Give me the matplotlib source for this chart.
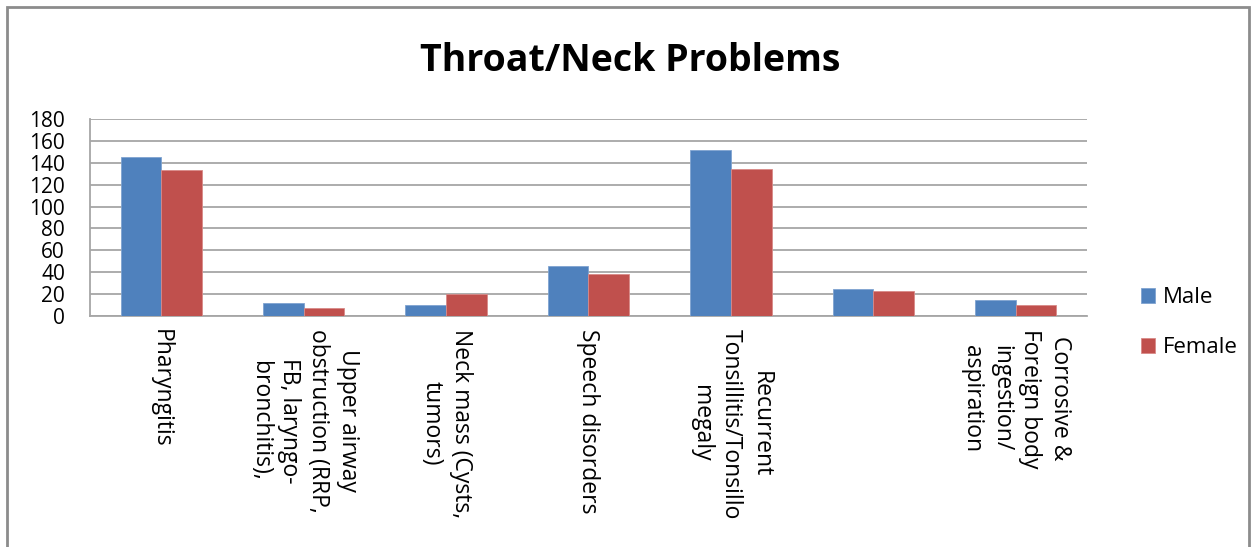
import numpy as np
import matplotlib.pyplot as plt
from matplotlib.patches import Rectangle

plt.rcParams['font.family'] = ['Open Sans', 'DejaVu Sans']

categories = [
    'Pharyngitis',
    'Upper airway\nobstruction (RRP,\nFB, laryngo-\nbronchitis),',
    'Neck mass (Cysts,\ntumors)',
    'Speech disorders',
    'Recurrent\nTonsillitis/Tonsillo\nmegaly',
    '',
    'Corrosive &\nForeign body\ningestion/\naspiration',
]
male = [145, 12, 10, 46, 152, 25, 15]
female = [133, 7, 20, 38, 134, 23, 10]
yticks = [0, 20, 40, 60, 80, 100, 120, 140, 160, 180]

fig = plt.figure(figsize=(12.55, 5.47), dpi=100)
ax = fig.add_axes([0.0717, 0.4223, 0.7944, 0.3601])

x = np.arange(len(categories))
w = 1 / 3.5
ax.bar(x - w / 2, male, w, color='#4F81BD', edgecolor='#7FA3D0', linewidth=0.6, label='Male', zorder=3)
ax.bar(x + w / 2, female, w, color='#C0504D', edgecolor='#D88A88', linewidth=0.6, label='Female', zorder=3)

ax.set_xlim(-0.5, len(categories) - 0.5)
ax.set_ylim(0, 180)
ax.set_yticks(yticks)
ax.set_yticklabels([str(v) for v in yticks], fontsize=15)
ax.yaxis.grid(True, color='#a6a6a6', linewidth=1.3, zorder=0)
ax.tick_params(axis='y', length=0, pad=18)

ax.set_xticks(x)
ax.set_xticklabels(categories, rotation=-90, fontsize=16.5, va='top', ha='center',
                   multialignment='center', linespacing=1.3)
ax.tick_params(axis='x', length=0, pad=9)

for s in ['top', 'right']:
    ax.spines[s].set_visible(False)
for s in ['left', 'bottom']:
    ax.spines[s].set_color('#a6a6a6')
    ax.spines[s].set_linewidth(1.3)

fig.text(0.502, 0.888, 'Throat/Neck Problems', ha='center', va='center',
         fontsize=27, fontweight='bold')

leg = fig.legend(loc='center left', bbox_to_anchor=(0.893, 0.41), frameon=False,
                 fontsize=16, handlelength=0.65, handleheight=0.65, handletextpad=0.35,
                 labelspacing=1.3)

# outer chart frame
fig.patches.append(Rectangle((7 / 1255, -0.01), 1242 / 1255, 1 - 7 / 547 + 0.01,
                             transform=fig.transFigure, fill=False,
                             edgecolor='#8c8c8c', linewidth=2))

fig.savefig('out.png', dpi=100)
